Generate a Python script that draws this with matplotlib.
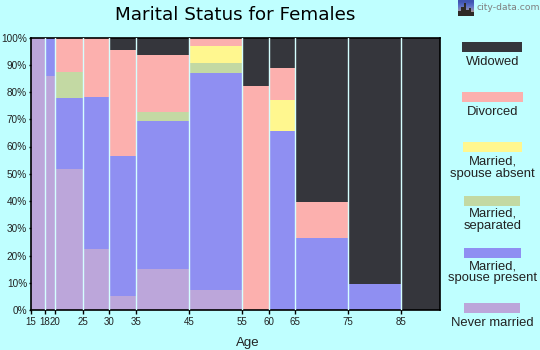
import numpy as np
import matplotlib
matplotlib.use('Agg')
import matplotlib.pyplot as plt
from matplotlib.patches import Rectangle

# column edges on the age axis (the 18 and 20 ticks sit a bit left of a true linear scale)
edges = [15, 17.65, 19.7, 25, 29.9, 35, 45, 55, 60, 65, 75, 85, 92.3]
tick_pos = [15, 17.65, 19.7, 25, 29.9, 35, 45, 55, 60, 65, 75, 85]
tick_labels = ['15', '18', '20', '25', '30', '35', '45', '55', '60', '65', '75', '85']

# percent per age group, bottom to top
never_married = [100, 85.8, 51.7, 22.5, 5.1, 15.0, 7.3, 0, 0, 0, 0, 0]
spouse_present = [0, 14.2, 26.2, 55.7, 51.4, 54.4, 79.7, 0, 65.7, 26.4, 9.5, 0]
separated = [0, 0, 9.4, 0, 0, 3.3, 3.6, 0, 0, 0, 0, 0]
spouse_absent = [0, 0, 0, 0, 0, 0, 6.3, 0, 11.3, 0, 0, 0]
divorced = [0, 0, 12.7, 21.8, 38.9, 20.9, 3.1, 82.2, 11.8, 13.2, 0, 0]
widowed = [0, 0, 0, 0, 4.6, 6.4, 0, 17.8, 11.2, 60.4, 90.5, 100]

series = [never_married, spouse_present, separated, spouse_absent, divorced, widowed]
colors = ['#bca6da', '#8f8ff2', '#c3d9a3', '#fff78f', '#fcb0ae', '#35363c']

legend_names = ['Widowed', 'Divorced', 'Married,\nspouse absent', 'Married,\nseparated',
                'Married,\nspouse present', 'Never married']
legend_colors = ['#35363c', '#fcb0ae', '#fff78f', '#c3d9a3', '#8f8ff2', '#bca6da']

bg = '#bfffff'
W, H = 540, 350
plt.rcParams['font.family'] = ['Liberation Sans', 'DejaVu Sans']

fig = plt.figure(figsize=(W / 100, H / 100), dpi=100, facecolor=bg)
ax = fig.add_axes([30.5 / W, 1 - 310 / H, (439.7 - 30.5) / W, (310 - 37.5) / H], facecolor=bg)

# stacked columns
left = np.array(edges[:-1])
width = np.diff(edges)
bottom = np.zeros(len(left))
for vals, col in zip(series, colors):
    ax.bar(left, vals, width=width, bottom=bottom, align='edge', color=col, linewidth=0)
    bottom += np.array(vals)

# pale separators between the columns
for e in edges[1:-1]:
    ax.axvline(e, color='#d5ffff', lw=1, zorder=3)

ax.set_xlim(edges[0], edges[-1])
ax.set_ylim(0, 100)
ax.set_xticks(tick_pos)
ax.set_xticklabels(tick_labels, fontsize=7, color='#222222')
ax.set_yticks(range(0, 101, 10))
ax.set_yticklabels([str(v) + '%' for v in range(0, 101, 10)], fontsize=7.2, color='#222222')
ax.tick_params(axis='x', length=3, width=1, pad=2)
ax.tick_params(axis='y', length=1.5, width=1, pad=1)
for s in ax.spines.values():
    s.set_linewidth(1.2)

fig.text(235.5 / W, 1 - 14.5 / H, 'Marital Status for Females', fontsize=13.2, family='DejaVu Sans',
         ha='center', va='center', color='black')
fig.text(248 / W, 1 - 343 / H, 'Age', fontsize=9.5, ha='center', va='center', color='#222222')
fig.text(476.7 / W, 1 - 8 / H, 'city-data.com', fontsize=6.7, family='DejaVu Sans', color='#808080',
         va='center', ha='left')

# legend, drawn by hand
swatch_x = [462, 462, 463, 464, 464, 464]
swatch_w = [60, 61, 59, 56, 57, 56]
swatch_y = [42, 92, 142, 196, 248, 303]
label_y = [62, 112, 168, 220, 272.5, 323]
for name, col, sx, sw, sy, ly in zip(legend_names, legend_colors, swatch_x, swatch_w, swatch_y, label_y):
    fig.add_artist(Rectangle((sx / W, 1 - (sy + 10) / H), sw / W, 10 / H, color=col, lw=0,
                             transform=fig.transFigure))
    fig.text(492.5 / W, 1 - ly / H, name, fontsize=9.4, ha='center', va='center', color='#222222',
             linespacing=1.0)

# small skyline logo
logo = fig.add_axes([458 / W, 1 - 16 / H, 16 / W, 16 / H])
logo.set_xlim(0, 16)
logo.set_ylim(16, 0)
logo.axis('off')
logo.imshow(np.array([[[0.25, 0.33, 0.70]], [[0.36, 0.44, 0.78]], [[0.55, 0.55, 0.70]], [[0.80, 0.62, 0.40]]]),
            extent=(0, 16, 16, 0), aspect='auto', interpolation='bilinear')
for bx, bw, bt in [(0, 3, 11), (3, 3, 7), (6, 2, 3), (8, 3, 10), (11, 2, 8), (13, 3, 12)]:
    logo.add_patch(Rectangle((bx, bt), bw, 16 - bt, color='#2e2a26', lw=0))

fig.savefig('out.png', dpi=100, facecolor=bg)
